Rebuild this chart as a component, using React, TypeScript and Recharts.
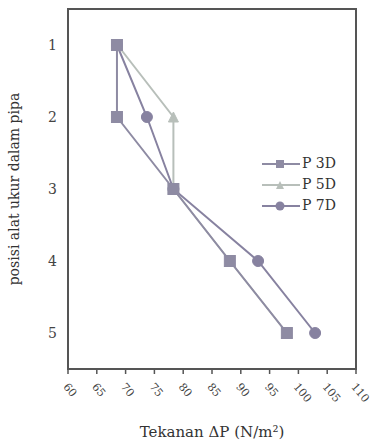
import React from "react";
import { LineChart, Line, XAxis, YAxis } from "recharts";

const positions = [1, 2, 3, 4, 5];
const p3D = [68.5, 68.5, 78.3, 88.1, 98.0];
const p5D = [68.6, 78.3, 78.3, 88.1, 98.0];
const p7D = [68.5, 73.7, 78.3, 93.0, 102.9];
const xTicks = [60, 65, 70, 75, 80, 85, 90, 95, 100, 105, 110];
const seriesNames = ["P 3D", "P 5D", "P 7D"];

const data = positions.map((pos, i) => ({ pos, p3: p3D[i], p5: p5D[i], p7: p7D[i] }));

const C3 = "#8e8ba3";
const C5 = "#b8bfba";
const C7 = "#8782a0";
const FONT = "'DejaVu Serif', serif";
const AXIS = "#555";

const square = (color: string, s: number) => (p: any) =>
  p.cx == null ? <g key={p.key} /> : (
    <rect key={p.key} x={p.cx - s / 2} y={p.cy - s / 2} width={s} height={s} fill={color} stroke={color} />
  );
const circle = (color: string, r: number) => (p: any) =>
  p.cx == null ? <g key={p.key} /> : <circle key={p.key} cx={p.cx} cy={p.cy} r={r} fill={color} stroke={color} />;
const triangle = (color: string, s: number) => (p: any) =>
  p.cx == null ? <g key={p.key} /> : (
    <path
      key={p.key}
      d={`M${p.cx},${p.cy - s / 2} L${p.cx + s / 2},${p.cy + s / 2} L${p.cx - s / 2},${p.cy + s / 2} Z`}
      fill={color}
      stroke={color}
    />
  );

const XTick = (props: any) => {
  const { x, y, payload } = props;
  return (
    <text
      x={x - 3}
      y={y + 9}
      transform={`rotate(50, ${x - 3}, ${y + 9})`}
      textAnchor="start"
      style={{ fontFamily: FONT }}
      fontSize={11}
      fill="#444"
      dominantBaseline="middle"
    >
      {payload.value}
    </text>
  );
};

const LegendBox = () => {
  const items = [
    { name: seriesNames[0], color: C3, kind: "square" },
    { name: seriesNames[1], color: C5, kind: "tri" },
    { name: seriesNames[2], color: C7, kind: "circle" },
  ];
  return (
    <svg width={100} height={66} style={{ position: "absolute", left: 262, top: 154 }}>
      {items.map((it, i) => {
        const cy = 10 + i * 21;
        return (
          <g key={it.name}>
            <line x1={0} x2={38} y1={cy} y2={cy} stroke={it.color} strokeWidth={2} />
            {it.kind === "square" && <rect x={14} y={cy - 4} width={8} height={8} fill={it.color} />}
            {it.kind === "circle" && <circle cx={18} cy={cy} r={4.5} fill={it.color} />}
            {it.kind === "tri" && <path d={`M18,${cy - 4} L22,${cy + 4} L14,${cy + 4} Z`} fill={it.color} />}
            <text x={40} y={cy} dominantBaseline="middle" style={{ fontFamily: FONT }} fontSize={14} fill="#333">
              {it.name}
            </text>
          </g>
        );
      })}
    </svg>
  );
};

export default function App() {
  return (
    <div style={{ position: "absolute", left: 0, top: 0, width: 376, height: 443, background: "#fff" }}>
      <LineChart
        width={376}
        height={443}
        data={data}
        layout="vertical"
        margin={{ top: 9, right: 20, bottom: 0, left: 0 }}
      >
        <XAxis
          type="number"
          domain={[60, 110]}
          ticks={xTicks}
          interval={0}
          height={74}
          tick={<XTick />}
          tickSize={5}
          tickLine={{ stroke: AXIS, strokeWidth: 1.5 }}
          axisLine={{ stroke: AXIS, strokeWidth: 2 }}
          label={{
            value: "Tekanan ΔP (N/m²)",
            position: "insideBottom",
            offset: 6,
            style: { fontFamily: FONT },
            fontSize: 15,
            fill: "#333",
          }}
        />
        <YAxis
          type="category"
          dataKey="pos"
          width={68}
          padding={{ top: 36, bottom: 36 }}
          tickLine={false}
          axisLine={{ stroke: AXIS, strokeWidth: 2 }}
          tickMargin={5}
          tick={{ style: { fontFamily: FONT }, fontSize: 14, fill: "#444" }}
          label={{
            value: "posisi alat ukur dalam pipa",
            angle: -90,
            position: "insideLeft",
            offset: 14,
            style: { textAnchor: "middle", fontFamily: FONT },
            fontSize: 14,
            fill: "#333",
          }}
        />
        <Line dataKey="p7" name={seriesNames[2]} stroke={C7} strokeWidth={2} dot={circle(C7, 5.5)} isAnimationActive={false} />
        <Line dataKey="p5" name={seriesNames[1]} stroke={C5} strokeWidth={2} dot={triangle(C5, 10)} isAnimationActive={false} />
        <Line dataKey="p3" name={seriesNames[0]} stroke={C3} strokeWidth={2} dot={square(C3, 11)} isAnimationActive={false} />
      </LineChart>
      <div
        style={{
          position: "absolute",
          left: 67,
          top: 8,
          width: 290,
          height: 362,
          border: `2px solid ${AXIS}`,
          boxSizing: "border-box",
          pointerEvents: "none",
        }}
      />
      <LegendBox />
    </div>
  );
}
